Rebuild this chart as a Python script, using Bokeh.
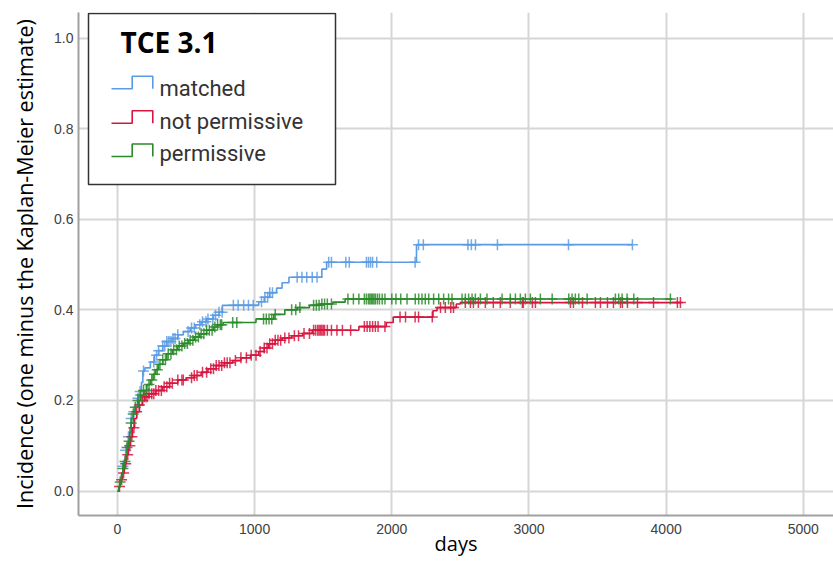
import numpy as np
from bokeh.plotting import figure
from bokeh.models import (Range1d, FixedTicker, Label, BoxAnnotation, PolyAnnotation,
                          NumeralTickFormatter)
from bokeh.embed import file_html
from bokeh.resources import INLINE

# ---------------- data ----------------
series_names = ["matched", "not permissive", "permissive"]
series_colors = ["#5b9be3", "#d6163f", "#2a8a2a"]

matched_t = [0, 10, 20, 30, 40, 50, 60, 70, 80, 90, 100, 115, 130, 145, 160, 175, 185, 200, 240,
             270, 300, 330, 360, 400, 440, 480, 530, 570, 610, 650, 700, 740, 765, 1030, 1070,
             1110, 1160, 1200, 1250, 1490, 1525, 2180]
matched_v = [0, 0.01, 0.025, 0.04, 0.055, 0.07, 0.09, 0.105, 0.12, 0.14, 0.16, 0.175, 0.19, 0.205,
             0.22, 0.24, 0.265, 0.272, 0.285, 0.30, 0.31, 0.32, 0.33, 0.337, 0.345, 0.352, 0.36,
             0.367, 0.374, 0.38, 0.388, 0.395, 0.41, 0.418, 0.428, 0.438, 0.448, 0.46, 0.472,
             0.49, 0.505, 0.544]
matched_end = 3754
matched_cens = [40, 60, 80, 100, 120, 150, 165, 190, 265, 285, 300, 330, 345, 360, 375, 390, 405,
                420, 440, 515, 540, 560, 600, 620, 645, 660, 695, 715, 740, 763, 845, 880, 920,
                955, 990, 1050, 1075, 1095, 1110, 1130, 1310, 1345, 1380, 1420, 1455, 1540, 1560,
                1665, 1690, 1815, 1830, 1845, 1860, 1890, 2170, 2195, 2230, 2555, 2580, 2610,
                2770, 3288, 3754]

notperm_t = [0, 10, 20, 35, 50, 65, 80, 95, 110, 125, 140, 160, 180, 200, 230, 280, 330, 380, 440,
             500, 560, 610, 660, 720, 780, 840, 900, 970, 1030, 1070, 1100, 1150, 1200, 1270,
             1350, 1420, 1760, 1960, 2010, 2300, 2330, 2470, 2500]
notperm_v = [0, 0.01, 0.025, 0.04, 0.06, 0.08, 0.10, 0.12, 0.14, 0.16, 0.175, 0.19, 0.20, 0.208,
             0.215, 0.222, 0.23, 0.238, 0.245, 0.25, 0.255, 0.262, 0.27, 0.277, 0.283, 0.288,
             0.294, 0.30, 0.308, 0.316, 0.325, 0.333, 0.338, 0.343, 0.348, 0.355, 0.363, 0.372,
             0.384, 0.398, 0.405, 0.413, 0.416]
notperm_end = 4110
notperm_cens = [15, 30, 45, 60, 75, 90, 105, 120, 140, 160, 185, 200, 215, 230, 250, 265, 280, 300,
                320, 340, 360, 380, 400, 440, 470, 480, 540, 560, 580, 620, 650, 680, 700, 720,
                740, 760, 780, 800, 820, 860, 900, 940, 975, 1010, 1040, 1070, 1090, 1110, 1130,
                1150, 1170, 1190, 1220, 1250, 1290, 1320, 1360, 1400, 1430, 1445, 1460, 1470,
                1480, 1490, 1500, 1510, 1530, 1560, 1600, 1640, 1700, 1800, 1820, 1840, 1860,
                1880, 1900, 1950, 2060, 2100, 2170, 2195, 2295, 2355, 2390, 2430, 2450, 2536,
                2573, 2595, 2631, 2682, 2740, 2791, 2864, 2952, 2959, 3025, 3047, 3302, 3324,
                3390, 3484, 3521, 3572, 3616, 3667, 3681, 3718, 3791, 3908, 4082, 4104]

perm_t = [0, 10, 20, 30, 40, 50, 60, 70, 80, 90, 100, 115, 130, 150, 170, 190, 215, 240, 260, 280,
          300, 330, 360, 400, 440, 480, 520, 560, 600, 650, 700, 730, 770, 1010, 1140, 1220, 1310,
          1400, 1480, 1570, 1660]
perm_v = [0, 0.01, 0.02, 0.035, 0.05, 0.065, 0.08, 0.096, 0.11, 0.13, 0.15, 0.17, 0.185, 0.20,
          0.212, 0.222, 0.235, 0.245, 0.258, 0.268, 0.28, 0.29, 0.303, 0.312, 0.32, 0.326, 0.333,
          0.34, 0.347, 0.355, 0.362, 0.367, 0.372, 0.38, 0.39, 0.40, 0.405, 0.41, 0.413, 0.417,
          0.424]
perm_end = 4045
perm_cens = [20, 40, 55, 70, 85, 100, 115, 130, 150, 170, 190, 210, 230, 250, 270, 290, 310, 330,
             350, 370, 390, 410, 430, 450, 470, 490, 510, 530, 550, 570, 590, 610, 630, 650, 670,
             690, 710, 730, 750, 760, 840, 870, 1065, 1085, 1105, 1125, 1150, 1270, 1300, 1330,
             1430, 1450, 1470, 1490, 1510, 1530, 1560, 1680, 1720, 1760, 1800, 1815, 1830, 1840,
             1850, 1860, 1870, 1880, 1895, 1910, 1930, 1950, 2000, 2030, 2065, 2111, 2171, 2196,
             2220, 2244, 2269, 2305, 2342, 2378, 2414, 2439, 2512, 2536, 2560, 2585, 2609, 2646,
             2694, 2804, 2864, 2901, 2937, 2974, 3010, 3083, 3169, 3290, 3314, 3338, 3363, 3424,
             3630, 3654, 3679, 3715, 3764, 4031]

x_ticks = [0, 1000, 2000, 3000, 4000, 5000]
y_ticks = [0.0, 0.2, 0.4, 0.6, 0.8, 1.0]
x_title = "days"
y_title = "Incidence (one minus the Kaplan-Meier estimate)"
legend_title = "TCE 3.1"

series = [
    (matched_t, matched_v, matched_end, matched_cens),
    (notperm_t, notperm_v, notperm_end, notperm_cens),
    (perm_t, perm_v, perm_end, perm_cens),
]

# ---------------- figure ----------------
p = figure(width=833, height=563, output_backend="svg", toolbar_location=None,
           x_range=Range1d(-284, 5220), y_range=Range1d(-0.054, 1.0565),
           min_border_left=78, min_border_right=0, min_border_top=12, min_border_bottom=48)
p.outline_line_color = None
p.background_fill_color = "white"
p.border_fill_color = "white"

for (t, v, end, cens), col in zip(series, series_colors):
    xs = list(t) + [end]
    ys = list(v) + [v[-1]]
    p.step(xs, ys, mode="after", line_color=col, line_width=1.6)
    idx = np.searchsorted(np.array(t), np.array(cens), side="right") - 1
    cy = np.array(v)[idx]
    p.scatter(cens, cy, marker="cross", size=11, line_color=col, line_width=1.5, line_alpha=0.85)

# axes
for ax in (p.xaxis, p.yaxis):
    ax.axis_line_color = "#a0a0a0"
    ax.axis_line_width = 2
    ax.major_tick_in = 0
    ax.major_tick_out = 0
    ax.minor_tick_in = 0
    ax.minor_tick_out = 0
    ax.major_tick_line_color = None
    ax.minor_tick_line_color = None
    ax.major_label_text_font = "Liberation Sans"
    ax.major_label_text_font_size = "14px"
    ax.major_label_text_color = "#404040"
    ax.axis_label_text_font = "Open Sans"
    ax.axis_label_text_font_style = "normal"
    ax.axis_label_text_color = "#000000"

p.xaxis.ticker = FixedTicker(ticks=x_ticks)
p.yaxis.ticker = FixedTicker(ticks=y_ticks)
p.yaxis.formatter = NumeralTickFormatter(format="0.0")
p.xaxis.axis_label = x_title
p.yaxis.axis_label = y_title
p.xaxis.axis_label_text_font_size = "20px"
p.yaxis.axis_label_text_font_size = "21.5px"
p.xaxis.major_label_standoff = 8
p.xaxis.axis_label_standoff = -7
p.yaxis.major_label_standoff = 5
p.yaxis.axis_label_standoff = 12

p.grid.grid_line_color = "#d6d6d6"
p.grid.grid_line_width = 2

# ---------------- legend (drawn in screen units, relative to frame) ----------------
box = BoxAnnotation(left=10, right=257, top=502, bottom=331,
                    left_units="screen", right_units="screen", top_units="screen",
                    bottom_units="screen", fill_color="white", fill_alpha=1.0,
                    line_color="#333333", line_width=1.5, line_alpha=1.0)
p.add_layout(box)
p.add_layout(Label(x=42, y=474, x_units="screen", y_units="screen", text=legend_title,
                   text_font="Open Sans", text_font_style="bold", text_font_size="28px",
                   text_color="black", text_baseline="alphabetic"))

icon_x = [33, 53.7, 53.7, 74.3, 74.3, 74.3, 53.7, 53.7, 33]
lows = [426.7, 392.3, 359]
label_base = [426.8, 394.5, 362.5]
for name, col, low, base in zip(series_names, series_colors, lows, label_base):
    top = low + 12.5
    ys = [low, low, top, top, low, top, top, low, low]
    p.add_layout(PolyAnnotation(xs=icon_x, ys=ys, xs_units="screen", ys_units="screen",
                                fill_alpha=0, line_color=col, line_width=1.6, line_alpha=1.0))
    p.add_layout(Label(x=81, y=base, x_units="screen", y_units="screen", text=name,
                       text_font="Roboto", text_font_size="22px",
                       text_color="#333333", text_baseline="alphabetic"))

open("out.html", "w").write(file_html(p, INLINE))
